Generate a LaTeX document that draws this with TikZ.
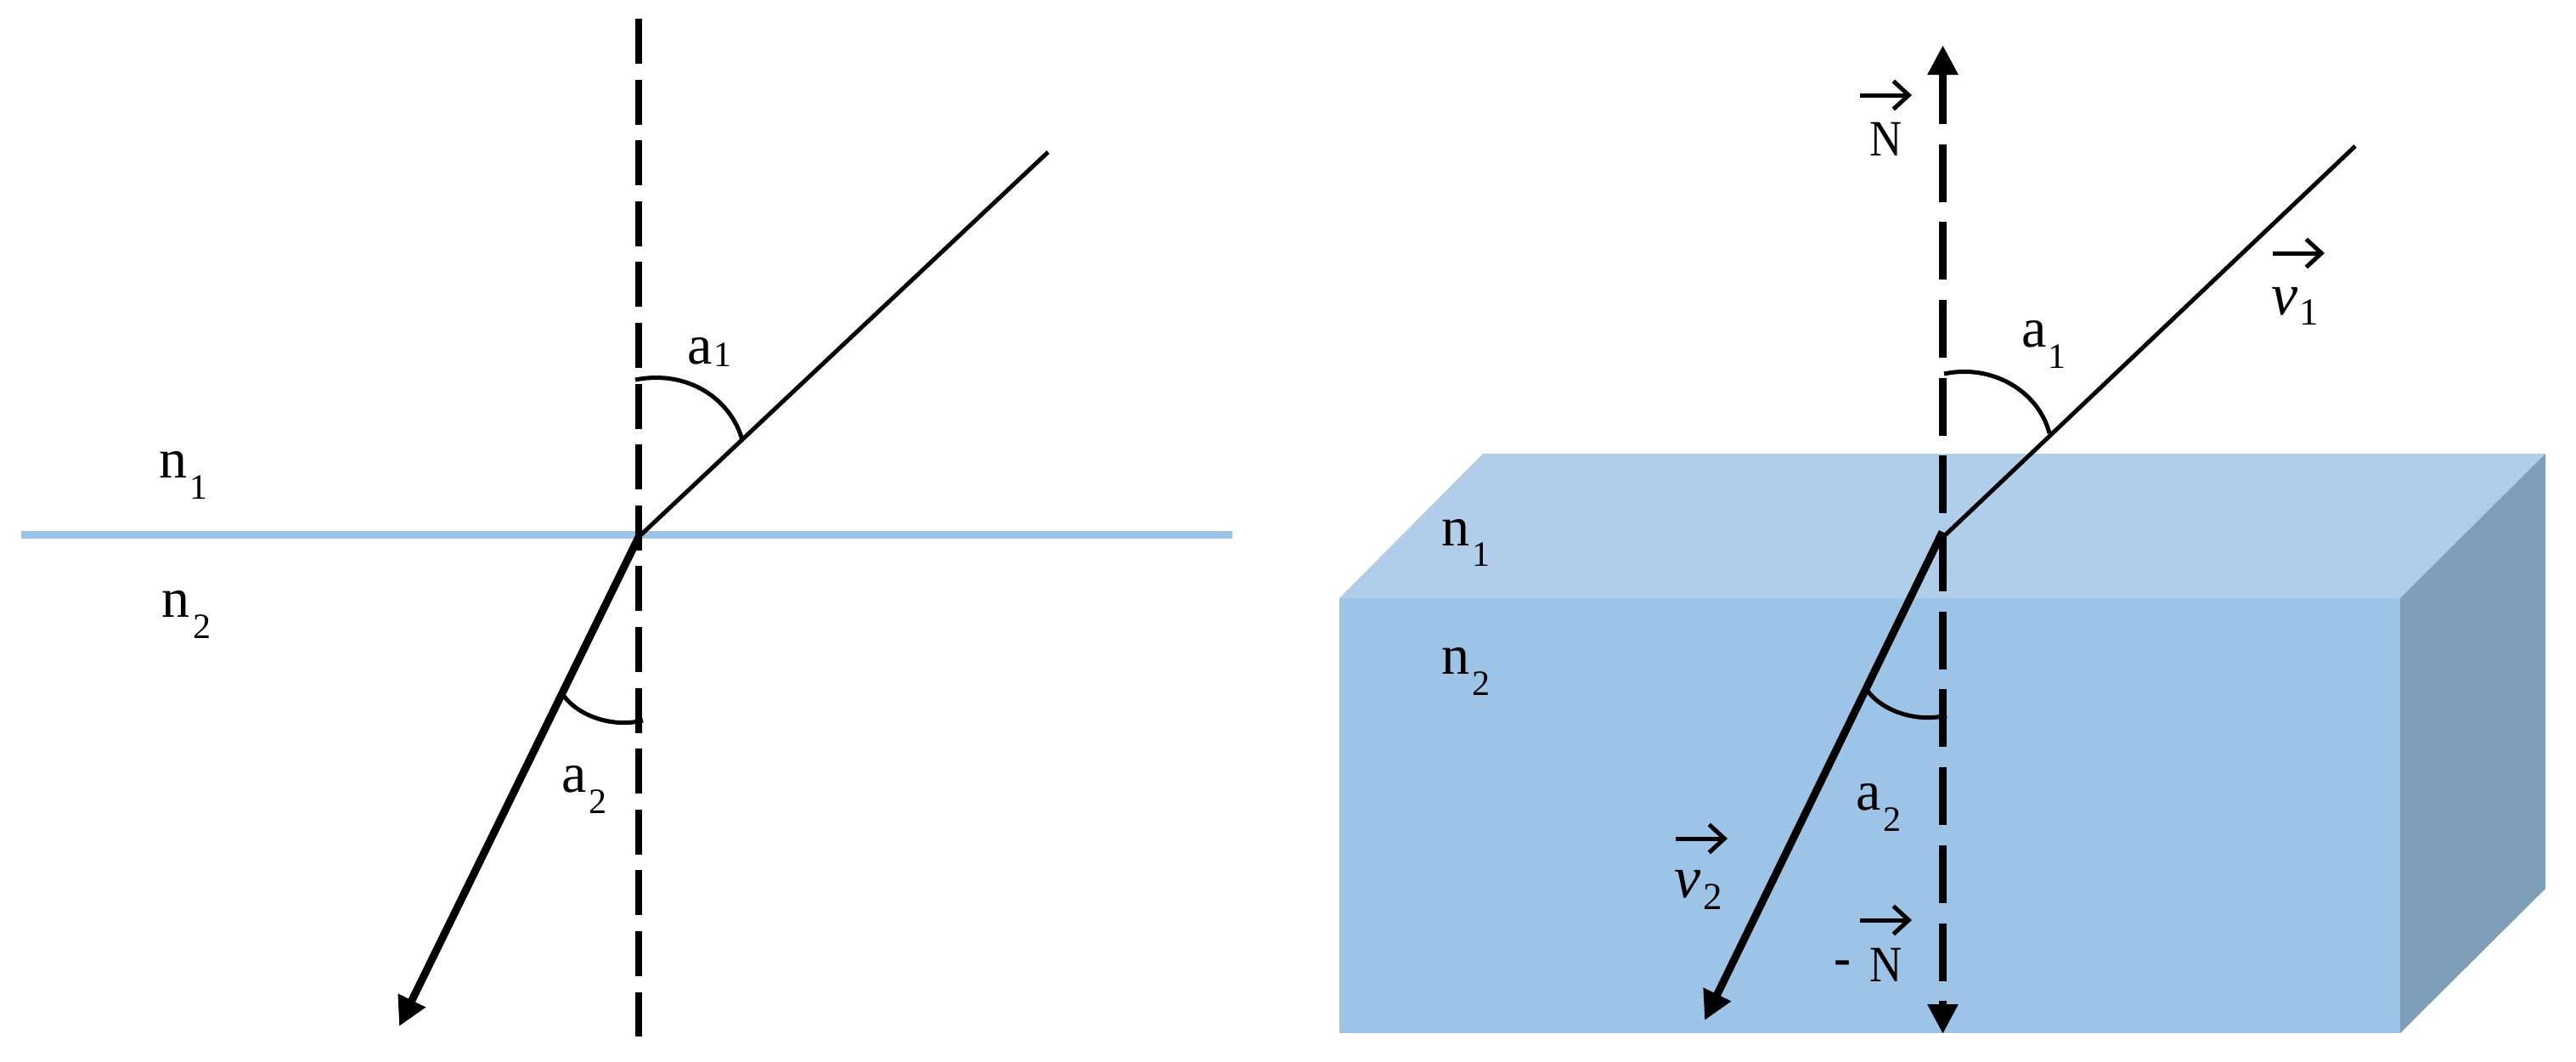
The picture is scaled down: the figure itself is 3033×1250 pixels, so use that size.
\documentclass[tikz,border=0pt]{standalone}
\usepackage{fontspec}
\setmainfont{Liberation Serif}
\usetikzlibrary{arrows.meta}
\definecolor{bfront}{HTML}{9DC3E6}
\definecolor{btop}{HTML}{B0CEEA}
\definecolor{bside}{HTML}{7F9EBA}
\newcommand{\lbl}[4]{#1\kern#3pt\raisebox{-#4pt}{\fontsize{42}{42}\selectfont #2}}
\newcommand{\vecdigit}[1]{{\fontsize{45}{45}\selectfont\upshape #1}}
\tikzset{
  labelnode/.style={inner sep=0pt,outer sep=0pt,anchor=base west,font=\fontsize{66}{66}\selectfont},
  capnode/.style={inner sep=0pt,outer sep=0pt,anchor=base east,font=\fontsize{60}{60}\selectfont},
  vecnode/.style={inner sep=0pt,outer sep=0pt,anchor=base west,font=\fontsize{70}{70}\selectfont\itshape},
  normalleft/.style={line width=8pt,dash pattern=on 53pt off 18.6pt},
  normalright/.style={line width=9pt,dash pattern=on 68pt off 23.7pt,dash phase=8pt,
    {Triangle[length=35pt,width=34pt]}-{Triangle[length=35pt,width=34pt]}},
  inray/.style={line width=5pt},
  outray/.style={line width=9pt,-{Triangle[length=34pt,width=34pt]}},
  anglearc/.style={line width=5pt},
  overarrow/.style={line width=5pt,-{Straight Barb[length=18pt,width=33pt,line width=5pt]}},
  surface/.style={line width=9pt,draw=bfront},
}
\begin{document}
\begin{tikzpicture}[x=1pt,y=-1pt]
\useasboundingbox (0,0) rectangle (3033,1250);
\fill[white] (0,0) rectangle (3033,1250);
% ---------- left figure
\coordinate (sl) at (25,629);
\coordinate (sr) at (1451,629);
\coordinate (ntop) at (752,22);
\coordinate (nbot) at (752,1220);
\coordinate (jl) at (752,632);
\coordinate (inl) at (1234,179);
\coordinate (tipl) at (470,1208);
\coordinate (a1s) at (748,447);
\coordinate (a1e) at (874,518);
\coordinate (a2s) at (663,818);
\coordinate (a2e) at (757,848);
\draw[surface] (sl) -- (sr);
\draw[normalleft] (ntop) -- (nbot);
\draw[inray] (jl) -- (inl);
\draw[outray] (jl) -- (tipl);
\draw[anglearc] (a1s) .. controls (808,435) and (860,468) .. (a1e);
\draw[anglearc] (a2s) .. controls (680,842) and (720,857) .. (a2e);
\node[labelnode] (la1) at (809,428) {\lbl{a}{1}{2}{3}};
\node[labelnode] (la2) at (661,932) {\lbl{a}{2}{3}{25}};
\node[labelnode] (ln1) at (187,562) {\lbl{n}{1}{3}{25}};
\node[labelnode] (ln2) at (190,726) {\lbl{n}{2}{4}{25}};
% ---------- right figure
\coordinate (fl) at (1577,704);
\coordinate (fr) at (2826,704);
\coordinate (fbr) at (2826,1216);
\coordinate (fbl) at (1577,1216);
\coordinate (bl) at (1746,534);
\coordinate (br) at (2997,534);
\coordinate (bbr) at (2997,1046);
\fill[bfront] (fl) -- (fr) -- (fbr) -- (fbl) -- cycle;
\fill[btop] (fl) -- (bl) -- (br) -- (fr) -- cycle;
\fill[bside] (fr) -- (br) -- (bbr) -- (fbr) -- cycle;
\coordinate (rntop) at (2287.5,53);
\coordinate (rnbot) at (2287.5,1217);
\coordinate (jr) at (2289,631);
\coordinate (jr2) at (2287,626);
\coordinate (inr) at (2773,172);
\coordinate (tipr) at (2007,1201);
\coordinate (b1s) at (2289,440);
\coordinate (b1e) at (2413,510);
\coordinate (b2s) at (2198,812);
\coordinate (b2e) at (2292,842);
\draw[normalright] (rntop) -- (rnbot);
\draw[inray] (jr) -- (inr);
\draw[outray] (jr2) -- (tipr);
\draw[anglearc] (b1s) .. controls (2345,428) and (2400,460) .. (b1e);
\draw[anglearc] (b2s) .. controls (2215,836) and (2255,851) .. (b2e);
\node[labelnode] (ra1) at (2380,408) {\lbl{a}{1}{2}{25}};
\node[labelnode] (ra2) at (2185,953) {\lbl{a}{2}{3}{25}};
\node[labelnode] (rn1) at (1697,642) {\lbl{n}{1}{3}{24}};
\node[labelnode] (rn2) at (1697,793) {\lbl{n}{2}{3}{25}};
\node[capnode] (capn) at (2240,183) {\scalebox{.88}[1]{N}};
\node[capnode] (capmn) at (2240,1155) {\raisebox{8pt}{\bfseries -}\kern22pt\scalebox{.88}[1]{N}};
\node[vecnode] (v1) at (2674,370) {\lbl{v}{\vecdigit{1}}{2}{12}};
\node[vecnode] (v2) at (1971,1056) {\lbl{v}{\vecdigit{2}}{3}{14}};
\coordinate (an1) at (2190,112);
\coordinate (an2) at (2251,112);
\coordinate (am1) at (2190,1083);
\coordinate (am2) at (2251,1083);
\coordinate (av11) at (2676,298);
\coordinate (av12) at (2737,298);
\coordinate (av21) at (1973,987);
\coordinate (av22) at (2034,987);
\draw[overarrow] (an1) -- (an2);
\draw[overarrow] (am1) -- (am2);
\draw[overarrow] (av11) -- (av12);
\draw[overarrow] (av21) -- (av22);
\end{tikzpicture}
\end{document}
